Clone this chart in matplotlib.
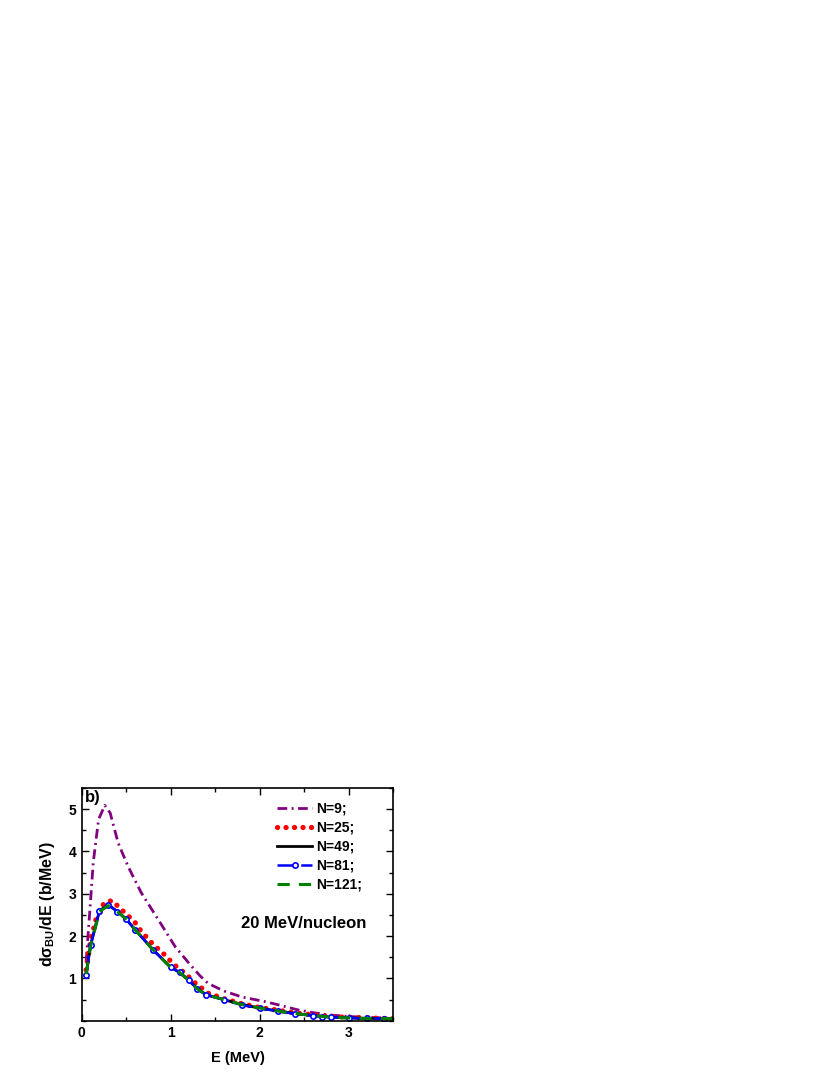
import matplotlib
matplotlib.use('Agg')
import matplotlib.pyplot as plt
from matplotlib.ticker import MultipleLocator

plt.rcParams['font.family'] = ['Liberation Sans', 'DejaVu Sans']
plt.rcParams['font.weight'] = 'bold'
plt.rcParams['mathtext.fontset'] = 'custom'
plt.rcParams['mathtext.rm'] = 'Liberation Sans:bold'
plt.rcParams['mathtext.it'] = 'Liberation Sans:bold'
plt.rcParams['mathtext.bf'] = 'Liberation Sans:bold'

# N=9 (dash-dot, purple)
e_n9 = [0.05, 0.09, 0.13, 0.19, 0.26, 0.32, 0.41, 0.52, 0.67, 0.86, 1.05, 1.22, 1.33, 1.42,
        1.6, 1.8, 2.04, 2.2, 2.42, 2.6, 2.79, 3.0, 3.2, 3.5]
s_n9 = [1.4, 2.55, 3.74, 4.76, 5.09, 4.91, 4.2, 3.65, 3.02, 2.39, 1.75, 1.32, 1.06, 0.88,
        0.7, 0.56, 0.46, 0.38, 0.26, 0.19, 0.135, 0.1, 0.08, 0.06]

# N=25 (dotted, red)
e_n25 = [0.05, 0.1, 0.16, 0.21, 0.25, 0.34, 0.41, 0.51, 0.59, 0.67, 0.79, 0.92, 1.04,
         1.16, 1.27, 1.42, 1.6, 1.8, 2.0, 2.2, 2.4, 2.6, 2.8, 3.0, 3.2, 3.5]
s_n25 = [1.2, 1.9, 2.39, 2.58, 2.78, 2.84, 2.7, 2.5, 2.35, 2.11, 1.83, 1.58, 1.32,
         1.12, 0.9, 0.65, 0.52, 0.4, 0.31, 0.25, 0.18, 0.14, 0.1, 0.08, 0.065, 0.05]

# N=49 (solid, black)
e_n49 = [0.05, 0.1, 0.2, 0.3, 0.4, 0.5, 0.6, 0.8, 1.0, 1.1, 1.2, 1.3, 1.4, 1.6, 1.8,
         2.0, 2.2, 2.4, 2.6, 2.8, 3.0, 3.2, 3.5]
s_n49 = [1.1, 1.78, 2.6, 2.74, 2.58, 2.4, 2.15, 1.68, 1.26, 1.14, 0.96, 0.76, 0.61, 0.5,
         0.38, 0.3, 0.23, 0.17, 0.12, 0.085, 0.065, 0.055, 0.048]

# N=81 (dashed with open circles, blue)
e_n81 = [0.05, 0.1, 0.2, 0.3, 0.4, 0.5, 0.6, 0.8, 1.0, 1.1, 1.2, 1.3, 1.4, 1.6, 1.8,
         2.0, 2.2, 2.4, 2.6, 2.7, 2.8, 3.0, 3.2, 3.4]
s_n81 = [1.08, 1.78, 2.6, 2.74, 2.58, 2.4, 2.15, 1.68, 1.26, 1.14, 0.96, 0.74, 0.61, 0.49,
         0.37, 0.29, 0.23, 0.16, 0.12, 0.095, 0.08, 0.064, 0.055, 0.05]

# N=121 (dashed, green)
e_n121 = [0.05, 0.1, 0.2, 0.3, 0.4, 0.5, 0.6, 0.8, 1.0, 1.1, 1.2, 1.3, 1.4, 1.6, 1.8,
          2.0, 2.2, 2.4, 2.6, 2.8, 3.0, 3.2, 3.5]
s_n121 = [1.1, 1.76, 2.58, 2.72, 2.58, 2.4, 2.15, 1.68, 1.26, 1.14, 0.96, 0.75, 0.61, 0.5,
          0.38, 0.3, 0.23, 0.17, 0.12, 0.085, 0.065, 0.055, 0.048]

fig = plt.figure(figsize=(8.3, 10.75), dpi=100)
ax = fig.add_axes([0.0984, 0.0505, 0.3755, 0.2165])

ax.plot(e_n9, s_n9, color='#800080', lw=2.0, linestyle=(0, (3.5, 1.6, 0.7, 1.6)), label='N=9;')
ax.plot(e_n25, s_n25, color='red', lw=3.8, linestyle=(0, (0.01, 1.6)),
        dash_capstyle='round', label='N=25;')
ax.plot(e_n49, s_n49, color='black', lw=2.0, label='N=49;')
ax.plot(e_n81, s_n81, color='blue', lw=1.8, linestyle=(0, (8, 1.5)), marker='o', ms=3.8,
        mfc='white', mec='blue', mew=1.2, label='N=81;')
ax.plot(e_n121, s_n121, color='green', lw=2.2, linestyle=(0, (4, 3)), label='N=121;')

ax.set_xlim(0, 3.5)
ax.set_ylim(0, 5.5)
ax.set_xticks([0, 1, 2, 3])
ax.set_yticks([1, 2, 3, 4, 5])
ax.xaxis.set_minor_locator(MultipleLocator(0.5))
ax.yaxis.set_minor_locator(MultipleLocator(0.5))
ax.tick_params(which='both', direction='in', top=True, right=True, width=1.0)
ax.tick_params(which='major', length=5, labelsize=10, pad=4)
ax.tick_params(which='minor', length=3)
for sp in ax.spines.values():
    sp.set_linewidth(1.2)

ax.set_xlabel('E (MeV)', fontsize=10.5, fontweight='bold', labelpad=8)
ax.set_ylabel(r'd$\sigma_{BU}$/dE (b/MeV)', fontsize=11.5, fontweight='bold', labelpad=8)

ax.text(0.01, 0.99, 'b)', transform=ax.transAxes, ha='left', va='top',
        fontsize=12, fontweight='bold')
ax.text(2.49, 2.3, '20 MeV/nucleon', ha='center', va='center', fontsize=12,
        fontweight='bold')

ax.legend(loc='upper right', frameon=False, prop={'size': 10, 'weight': 'bold'},
          handlelength=2.5, handletextpad=0.3, labelspacing=0.36,
          borderaxespad=0.0, bbox_to_anchor=(0.918, 0.966))

fig.savefig('out.png', dpi=100)
